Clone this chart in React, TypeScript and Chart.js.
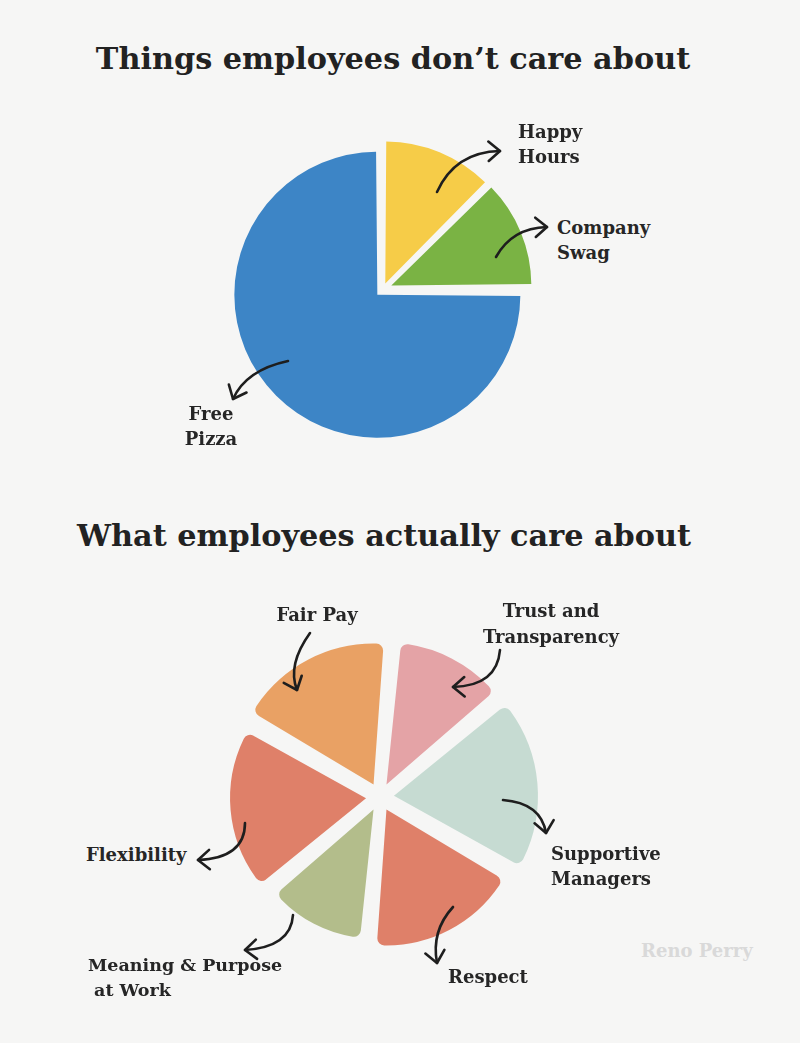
import { useEffect, useRef } from "react";
import { Chart, registerables } from "chart.js";

Chart.register(...registerables);

// ---------- Chart 1: things employees don't care about ----------
const perkLabels = ["Happy Hours", "Company Swag", "Free Pizza"];
const perkShareDeg = [45, 45, 270];
const perkRadius = [136, 131, 135];
const perkColors = ["#F6CC48", "#7AB344", "#3D85C6"];
const perkExplode = [6, 9, 8];

// ---------- Chart 2: what employees actually care about ----------
const careLabels = [
  "Fair Pay",
  "Trust and Transparency",
  "Supportive Managers",
  "Respect",
  "Meaning & Purpose at Work",
  "Flexibility",
];
const careShareDeg = [65, 45, 70, 65, 45, 70];
const careRadius = [127, 128, 130, 122, 115, 122];
const careColors = ["#E9A164", "#E4A3A6", "#C6DBD2", "#DF8069", "#B3BD8B", "#DF8069"];
const careExplode = [14, 14, 14, 14, 14, 14];

// arrow annotations: [tail, control, tip] relative to the chart centre
type P = [number, number];
const perkArrows: [P, P, P][] = [
  [[54, -97], [72, -137], [117, -138]],
  [[113, -32], [129, -61], [164, -62]],
  [[-95, 72], [-137, 81], [-150, 110]],
];
const careArrows: [P, P, P][] = [
  [[-70, -164], [-93, -132], [-83, -107]],
  [[120, -147], [117, -111], [73, -110]],
  [[123, 3], [161, 6], [166, 36]],
  [[73, 110], [51, 134], [57, 166]],
  [[-87, 118], [-89, 150], [-135, 153]],
  [[-135, 26], [-135, 61], [-182, 63]],
];

function arrowPlugin(arrows: [P, P, P][]) {
  return {
    id: "handArrows",
    afterDatasetsDraw(chart: any) {
      const s = chart.scales.r;
      const cx = s.xCenter;
      const cy = s.yCenter;
      const ctx = chart.ctx as CanvasRenderingContext2D;
      ctx.save();
      ctx.strokeStyle = "#1e1e1e";
      ctx.lineWidth = 2.6;
      ctx.lineCap = "round";
      ctx.lineJoin = "round";
      for (const [t, c, p] of arrows) {
        ctx.beginPath();
        ctx.moveTo(cx + t[0], cy + t[1]);
        ctx.quadraticCurveTo(cx + c[0], cy + c[1], cx + p[0], cy + p[1]);
        ctx.stroke();
        const ang = Math.atan2(p[1] - c[1], p[0] - c[0]);
        const L = 15;
        const spread = 0.7;
        ctx.beginPath();
        ctx.moveTo(cx + p[0] - L * Math.cos(ang - spread), cy + p[1] - L * Math.sin(ang - spread));
        ctx.lineTo(cx + p[0], cy + p[1]);
        ctx.lineTo(cx + p[0] - L * Math.cos(ang + spread), cy + p[1] - L * Math.sin(ang + spread));
        ctx.stroke();
      }
      ctx.restore();
    },
  };
}

function makeChart(
  canvas: HTMLCanvasElement,
  size: number,
  labels: string[],
  radius: number[],
  shares: number[],
  colors: string[],
  explode: number[],
  startAngle: number,
  rounded: number,
  arrows: [P, P, P][]
) {
  return new Chart(canvas, {
    type: "polarArea",
    data: {
      labels,
      datasets: [
        {
          data: radius,
          backgroundColor: colors,
          borderWidth: 0,
          borderRadius: rounded,
          offset: explode.map((v) => v * 4),
          angle: shares,
        } as any,
      ],
    },
    options: {
      responsive: false,
      animation: false,
      layout: { padding: 0 },
      scales: {
        r: { display: false, min: 0, max: size / 2, startAngle },
      },
      plugins: { legend: { display: false }, tooltip: { enabled: false } },
    } as any,
    plugins: [arrowPlugin(arrows)],
  });
}

const C1 = { x: 383, y: 289, size: 340 };
const C2 = { x: 380, y: 797, size: 380 };

const labelStyle: any = {
  position: "absolute",
  fontWeight: 700,
  fontSize: 18,
  lineHeight: "25px",
  whiteSpace: "pre",
  color: "#262626",
};

export default function App() {
  const ref1 = useRef<HTMLCanvasElement>(null);
  const ref2 = useRef<HTMLCanvasElement>(null);

  useEffect(() => {
    const c1 = makeChart(ref1.current!, C1.size, perkLabels, perkRadius, perkShareDeg, perkColors, perkExplode, 0, 0, perkArrows);
    const c2 = makeChart(ref2.current!, C2.size, careLabels, careRadius, careShareDeg, careColors, careExplode, -60, 7, careArrows);
    return () => {
      c1.destroy();
      c2.destroy();
    };
  }, []);

  return (
    <div
      style={{
        position: "absolute",
        left: 0,
        top: 0,
        width: 800,
        height: 1043,
        overflow: "hidden",
        background: "#f6f6f5",
        fontFamily: "'DejaVu Serif', serif",
      }}
    >
      <canvas
        ref={ref1}
        width={C1.size}
        height={C1.size}
        style={{ position: "absolute", left: C1.x - C1.size / 2, top: C1.y - C1.size / 2, width: C1.size, height: C1.size }}
      />
      <canvas
        ref={ref2}
        width={C2.size}
        height={C2.size}
        style={{ position: "absolute", left: C2.x - C2.size / 2, top: C2.y - C2.size / 2, width: C2.size, height: C2.size }}
      />

      <div style={{ ...labelStyle, fontSize: 30.3, lineHeight: "40px", left: 393, top: 39, transform: "translateX(-50%)", color: "#222" }}>
        Things employees don’t care about
      </div>
      <div style={{ ...labelStyle, fontSize: 30.3, lineHeight: "40px", left: 384, top: 516, transform: "translateX(-50%)", color: "#222" }}>
        What employees actually care about
      </div>

      <div style={{ ...labelStyle, left: 518, top: 119 }}>{"Happy\nHours"}</div>
      <div style={{ ...labelStyle, left: 557, top: 215 }}>{"Company\nSwag"}</div>
      <div style={{ ...labelStyle, left: 211, top: 401, transform: "translateX(-50%)", textAlign: "center" }}>{"Free\nPizza"}</div>

      <div style={{ ...labelStyle, left: 317, top: 602, transform: "translateX(-50%)", textAlign: "center" }}>Fair Pay</div>
      <div style={{ ...labelStyle, left: 551, top: 598, lineHeight: "26px", transform: "translateX(-50%)", textAlign: "center" }}>
        {"Trust and\nTransparency"}
      </div>
      <div style={{ ...labelStyle, left: 551, top: 841 }}>{"Supportive\nManagers"}</div>
      <div style={{ ...labelStyle, left: 448, top: 964 }}>Respect</div>
      <div style={{ ...labelStyle, left: 88, top: 953, fontSize: 17.5 }}>
        {"Meaning & Purpose\n at Work"}
      </div>
      <div style={{ ...labelStyle, left: 86, top: 842 }}>Flexibility</div>
      <div style={{ ...labelStyle, left: 641, top: 938, color: "#d9d9d9" }}>Reno Perry</div>
    </div>
  );
}
